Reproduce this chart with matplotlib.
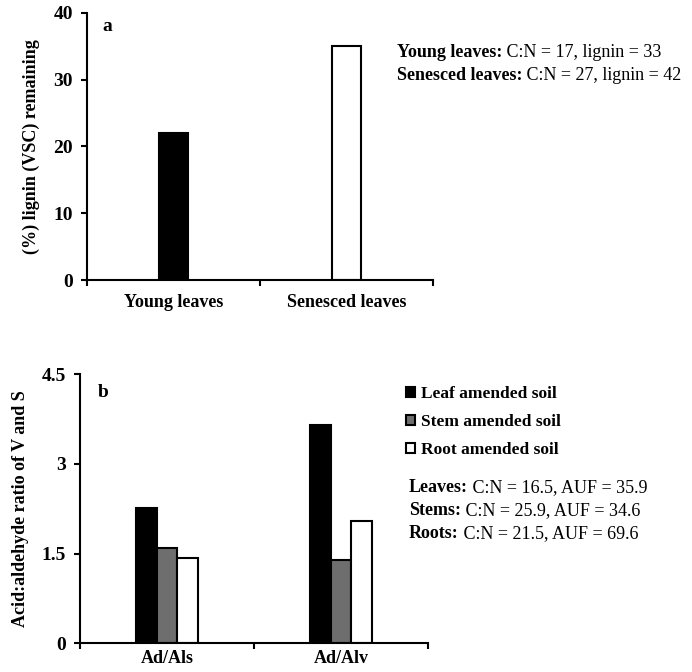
import numpy as np
import matplotlib.pyplot as plt

plt.rcParams['font.family'] = ['Liberation Serif', 'DejaVu Serif']
plt.rcParams['font.size'] = 13

# panel a
leaf_types = ['Young leaves', 'Senesced leaves']
lignin_remaining = [22, 35]
a_notes = [('Young leaves:', ' C:N = 17, lignin = 33'),
           ('Senesced leaves:', ' C:N = 27, lignin = 42')]

# panel b
ratios = ['Ad/Als', 'Ad/Alv']
soils = ['Leaf amended soil', 'Stem amended soil', 'Root amended soil']
leaf_soil = [2.26, 3.65]
stem_soil = [1.60, 1.39]
root_soil = [1.43, 2.05]
b_notes = [('Leaves:', ' C:N = 16.5, AUF = 35.9'),
           ('Stems:', ' C:N = 25.9, AUF = 34.6'),
           ('Roots:', ' C:N = 21.5, AUF = 69.6')]

fig = plt.figure(figsize=(6.92, 6.72), dpi=100)


def style_axes(ax, xpad):
    for s in ['top', 'right']:
        ax.spines[s].set_visible(False)
    for s in ['left', 'bottom']:
        ax.spines[s].set_linewidth(1.5)
    ax.set_xlim(0, 2)
    ax.set_xticks([0, 1, 2])
    ax.set_xticklabels([])
    ax.set_xticks([0.5, 1.5], minor=True)
    ax.tick_params(axis='x', which='minor', length=0, pad=xpad)
    ax.tick_params(axis='both', which='major', direction='out', length=4, width=1.5, pad=6)
    for lab in ax.get_yticklabels():
        lab.set_fontweight('bold')
        lab.set_fontsize(14)
    for lab in ax.get_xticklabels(minor=True):
        lab.set_fontweight('bold')
        lab.set_fontsize(13)


notes_drawn = []


def two_part(x, y, bold, plain):
    # bold lead-in; plain part is placed after it once sizes are known
    t = fig.text(x, y, bold, fontweight='bold', fontsize=13, va='baseline')
    notes_drawn.append((t, y, plain))


# ---- a ----
ax1 = fig.add_axes([0.1257, 0.5833, 0.5, 0.3974])
x = np.array([0.5, 1.5])
ax1.bar(x, lignin_remaining, width=0.17, color=['black', 'white'],
        edgecolor='black', linewidth=1.5)
ax1.set_ylim(0, 40)
ax1.set_yticks([0, 10, 20, 30, 40])
ax1.set_xticklabels(leaf_types, minor=True)
style_axes(ax1, 10)
ax1.set_ylabel('(%) lignin (VSC) remaining', fontweight='bold', fontsize=13, labelpad=10)
ax1.text(0.09, 38, 'a', fontweight='bold', fontsize=14, va='center')

for i, (b, p) in enumerate(a_notes):
    two_part(397 / 692, 1 - (57 + 23 * i) / 672, b, p)

# ---- b ----
ax2 = fig.add_axes([0.1156, 0.0427, 0.5029, 0.4003])
w = 0.12
h1 = ax2.bar(x - w, leaf_soil, width=w, color='black', edgecolor='black', linewidth=1.5)
h2 = ax2.bar(x, stem_soil, width=w, color='#6e6e6e', edgecolor='black', linewidth=1.5)
h3 = ax2.bar(x + w, root_soil, width=w, color='white', edgecolor='black', linewidth=1.5)
ax2.set_ylim(0, 4.5)
ax2.set_yticks([0, 1.5, 3, 4.5])
ax2.set_yticklabels(['0', '1.5', '3', '4.5'])
ax2.set_xticklabels(ratios, minor=True)
style_axes(ax2, 5)
ax2.set_ylabel('Acid:aldehyde ratio of V and S', fontweight='bold', fontsize=13, labelpad=9)
ax2.text(0.1, 4.2, 'b', fontweight='bold', fontsize=14, va='center')

fig.legend([h1, h2, h3], soils, loc='upper left', bbox_to_anchor=(401 / 692, 1 - 381 / 672),
           frameon=False, handlelength=0.5, handleheight=0.5, handletextpad=0.35,
           labelspacing=0.68, borderaxespad=0, borderpad=0.3,
           prop={'weight': 'bold', 'size': 12.5})

for i, (b, p) in enumerate(b_notes):
    two_part(409 / 692, 1 - (492 + 23 * i) / 672, b, p)

fig.canvas.draw()
r = fig.canvas.get_renderer()
for t, y, plain in notes_drawn:
    bb = t.get_window_extent(r).transformed(fig.transFigure.inverted())
    fig.text(bb.x1, y, plain, fontsize=13, va='baseline')

fig.savefig('out.png', dpi=100)
